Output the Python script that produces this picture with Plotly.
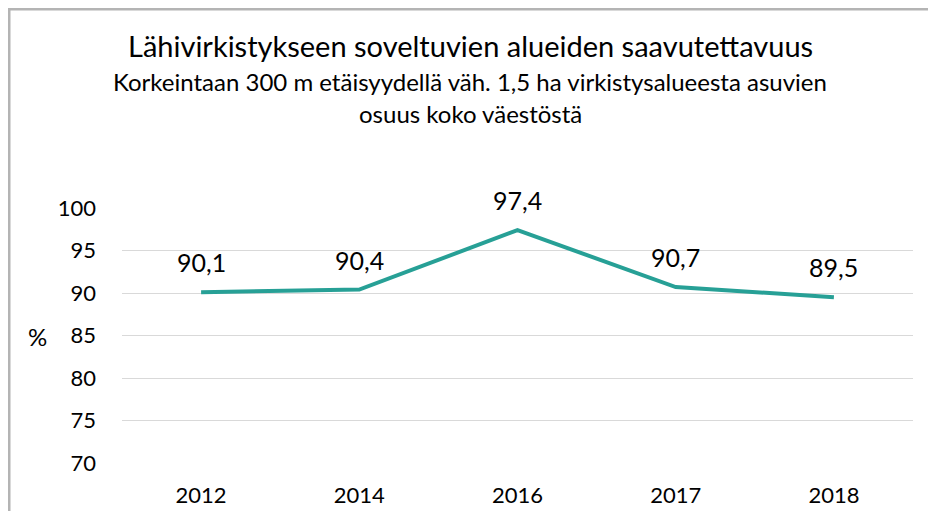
import plotly.graph_objects as go

years = ["2012", "2014", "2016", "2017", "2018"]
values = [90.1, 90.4, 97.4, 90.7, 89.5]
labels = ["90,1", "90,4", "97,4", "90,7", "89,5"]
y_ticks = [70, 75, 80, 85, 90, 95, 100]

title = "Lähivirkistykseen soveltuvien alueiden saavutettavuus"
subtitle1 = "Korkeintaan 300 m etäisyydellä väh. 1,5 ha virkistysalueesta asuvien"
subtitle2 = "osuus koko väestöstä"

FONT = "Lato"
OFF = 8  # page body margin
W, H = 936 - 2 * OFF, 519 - 2 * OFF
L, T = 122 - OFF, 208 - OFF
pw, ph = 791, 255
R, B = W - L - pw, H - T - ph

def px_x(x):
    return (x - OFF - L) / pw

def px_y(y):
    return 1 - (y - OFF - T) / ph

fig = go.Figure()
fig.add_trace(go.Scatter(
    x=years, y=values, mode="lines",
    line=dict(color="#27A096", width=4),
    hoverinfo="skip", showlegend=False,
))

annotations = []
for i, (v, lab) in enumerate(zip(values, labels)):
    annotations.append(dict(x=i, y=v, xref="x", yref="y", text=lab, showarrow=False,
                            yshift=30, yanchor="middle",
                            font=dict(family=FONT, size=25, color="#000000")))
annotations += [
    dict(xref="paper", yref="paper", x=px_x(470), y=px_y(45), text=title, showarrow=False,
         xanchor="center", yanchor="middle", font=dict(family=FONT, size=29, color="#000")),
    dict(xref="paper", yref="paper", x=px_x(470), y=px_y(81), text=subtitle1, showarrow=False,
         xanchor="center", yanchor="middle", font=dict(family=FONT, size=24, color="#000")),
    dict(xref="paper", yref="paper", x=px_x(470), y=px_y(113), text=subtitle2, showarrow=False,
         xanchor="center", yanchor="middle", font=dict(family=FONT, size=24, color="#000")),
    dict(xref="paper", yref="paper", x=px_x(37), y=px_y(336), text="%", showarrow=False,
         xanchor="center", yanchor="middle", font=dict(family=FONT, size=24, color="#000")),
]

shapes = [
    dict(type="line", xref="paper", yref="paper", x0=px_x(9), x1=px_x(9), y0=px_y(540), y1=px_y(9),
         line=dict(color="#B4B4B4", width=3)),
    dict(type="line", xref="paper", yref="paper", x0=px_x(8), x1=px_x(950), y0=px_y(9), y1=px_y(9),
         line=dict(color="#B4B4B4", width=3)),
]

fig.update_layout(
    width=W, height=H,
    margin=dict(l=L, r=R, t=T, b=B, pad=0, autoexpand=False),
    paper_bgcolor="white", plot_bgcolor="white",
    font=dict(family=FONT, size=22, color="#000"),
    annotations=annotations, shapes=shapes,
    xaxis=dict(type="category", range=[-0.5, 4.5], showgrid=False, showline=False,
               zeroline=False, ticks="", ticklabelstandoff=17, automargin=False,
               tickfont=dict(family=FONT, size=22, color="#000")),
    yaxis=dict(range=[70, 100], tickvals=y_ticks, showgrid=True, gridcolor="#D9D9D9",
               gridwidth=1, zeroline=False, showline=False, ticks="", ticklabelstandoff=25,
               automargin=False, tickfont=dict(family=FONT, size=22, color="#000")),
)

fig.write_html("out.html")
